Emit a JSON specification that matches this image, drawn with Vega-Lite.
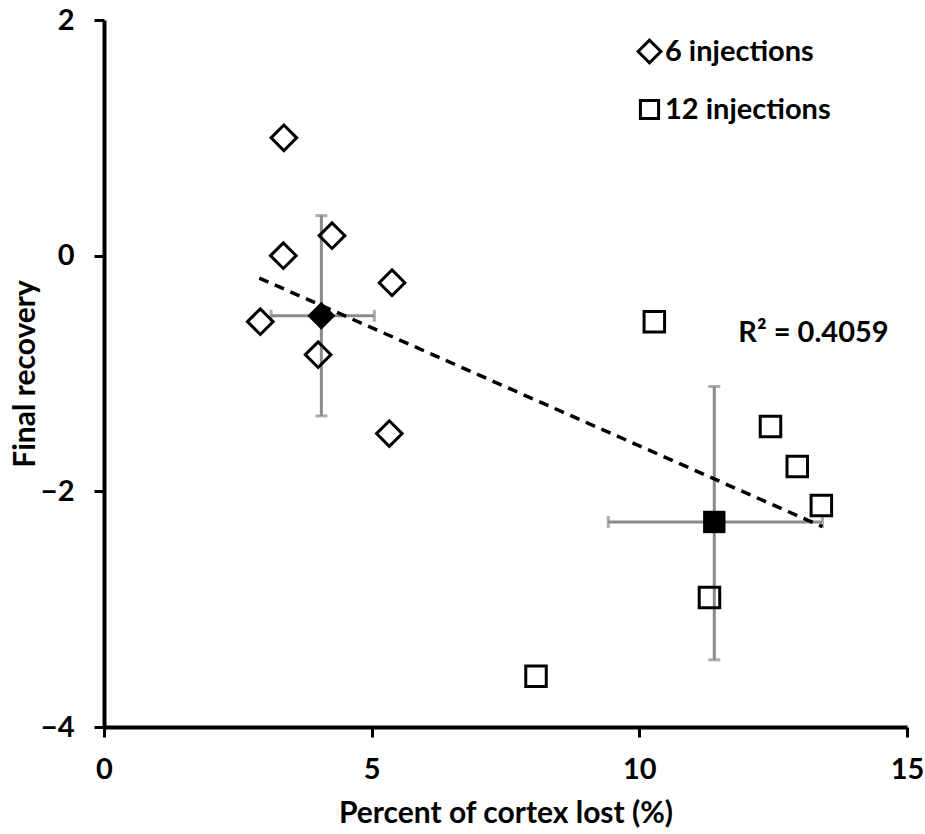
{
  "$schema": "https://vega.github.io/schema/vega-lite/v6.json",
  "width": 803,
  "height": 707,
  "autosize": {"type": "none"},
  "padding": {"left": 104, "top": 20, "right": 18, "bottom": 107},
  "background": "white",
  "config": {
    "view": {"stroke": null},
    "font": "Lato",
    "axis": {"grid": false, "domainColor": "black", "tickColor": "black", "labelColor": "black", "titleColor": "black", "labelFont": "Lato", "titleFont": "Lato", "labelFontWeight": "bold", "titleFontWeight": "bold", "labelFontSize": 29, "titleFontSize": 30, "domainWidth": 4, "tickWidth": 3, "tickSize": 10, "format": "d", "labelFlush": false},
    "axisX": {"labelPadding": 18, "titlePadding": 14},
    "axisY": {"labelPadding": 20, "titlePadding": 0}
  },
  "datasets": {
    "points": [
      {"group": "6 injections", "x": 3.36, "y": 1.0},
      {"group": "6 injections", "x": 3.35, "y": 0.0},
      {"group": "6 injections", "x": 4.26, "y": 0.17},
      {"group": "6 injections", "x": 5.38, "y": -0.23},
      {"group": "6 injections", "x": 2.92, "y": -0.56},
      {"group": "6 injections", "x": 4.0, "y": -0.84},
      {"group": "6 injections", "x": 5.33, "y": -1.51},
      {"group": "12 injections", "x": 10.28, "y": -0.56},
      {"group": "12 injections", "x": 12.45, "y": -1.45},
      {"group": "12 injections", "x": 12.95, "y": -1.79},
      {"group": "12 injections", "x": 13.4, "y": -2.12},
      {"group": "12 injections", "x": 11.31, "y": -2.9},
      {"group": "12 injections", "x": 8.07, "y": -3.57}
    ],
    "means": [
      {"group": "6 injections", "x": 4.06, "y": -0.51, "xlo": 3.12, "xhi": 5.05, "ylo": -1.36, "yhi": 0.34},
      {"group": "12 injections", "x": 11.4, "y": -2.26, "xlo": 9.42, "xhi": 13.42, "ylo": -3.43, "yhi": -1.11}
    ],
    "trend": [
      {"x": 2.9, "y": -0.19},
      {"x": 13.42, "y": -2.3}
    ],
    "label": [
      {"x": 11.85, "y": -0.66, "text": "R² = 0.4059"}
    ]
  },
  "layer": [
    {
      "data": {"name": "means"},
      "mark": {"type": "errorbar", "ticks": {"size": 12, "thickness": 3, "color": "#8a8a8a"}, "rule": {"strokeWidth": 3, "color": "#8a8a8a"}},
      "encoding": {
        "x": {"field": "x", "type": "quantitative", "title": "Percent of cortex lost (%)", "scale": {"domain": [0, 15], "nice": false, "zero": false}, "axis": {"values": [0, 5, 10, 15]}},
        "y": {"field": "ylo", "type": "quantitative", "title": "Final recovery", "scale": {"domain": [-4, 2], "nice": false, "zero": false}, "axis": {"values": [-4, -2, 0, 2]}},
        "y2": {"field": "yhi"}
      }
    },
    {
      "data": {"name": "means"},
      "mark": {"type": "errorbar", "ticks": {"size": 12, "thickness": 3, "color": "#8a8a8a"}, "rule": {"strokeWidth": 3, "color": "#8a8a8a"}},
      "encoding": {
        "y": {"field": "y", "type": "quantitative", "title": "Final recovery", "scale": {"domain": [-4, 2], "nice": false, "zero": false}, "axis": {"values": [-4, -2, 0, 2]}},
        "x": {"field": "xlo", "type": "quantitative", "title": "Percent of cortex lost (%)", "scale": {"domain": [0, 15], "nice": false, "zero": false}, "axis": {"values": [0, 5, 10, 15]}},
        "x2": {"field": "xhi"}
      }
    },
    {
      "data": {"name": "trend"},
      "mark": {"type": "line", "color": "black", "strokeWidth": 3.5, "strokeDash": [10, 7]},
      "encoding": {
        "x": {"field": "x", "type": "quantitative", "title": "Percent of cortex lost (%)", "scale": {"domain": [0, 15], "nice": false, "zero": false}, "axis": {"values": [0, 5, 10, 15]}},
        "y": {"field": "y", "type": "quantitative", "title": "Final recovery", "scale": {"domain": [-4, 2], "nice": false, "zero": false}, "axis": {"values": [-4, -2, 0, 2]}}
      }
    },
    {
      "data": {"name": "points"},
      "mark": {"type": "point", "filled": false, "stroke": "black", "strokeWidth": 3, "opacity": 1, "size": 420},
      "encoding": {
        "x": {"field": "x", "type": "quantitative", "title": "Percent of cortex lost (%)", "scale": {"domain": [0, 15], "nice": false, "zero": false}, "axis": {"values": [0, 5, 10, 15]}},
        "y": {"field": "y", "type": "quantitative", "title": "Final recovery", "scale": {"domain": [-4, 2], "nice": false, "zero": false}, "axis": {"values": [-4, -2, 0, 2]}},
        "shape": {"field": "group", "type": "nominal",
          "scale": {"domain": ["6 injections", "12 injections"], "range": ["M-1.25,0L0,-1.25L1.25,0L0,1.25Z", "square"]},
          "legend": {"title": null, "orient": "none", "legendX": 531, "legendY": 17, "padding": 0, "symbolSize": 330, "symbolStrokeWidth": 3, "symbolStrokeColor": "black", "symbolFillColor": "white", "labelFontSize": 29, "labelFontWeight": "bold", "labelFont": "Lato", "labelColor": "black", "labelLimit": 400, "rowPadding": 25, "labelOffset": 1}}
      }
    },
    {
      "data": {"name": "means"},
      "mark": {"type": "point", "filled": true, "color": "black", "opacity": 1, "size": 500},
      "encoding": {
        "x": {"field": "x", "type": "quantitative", "title": "Percent of cortex lost (%)", "scale": {"domain": [0, 15], "nice": false, "zero": false}, "axis": {"values": [0, 5, 10, 15]}},
        "y": {"field": "y", "type": "quantitative", "title": "Final recovery", "scale": {"domain": [-4, 2], "nice": false, "zero": false}, "axis": {"values": [-4, -2, 0, 2]}},
        "shape": {"field": "group", "type": "nominal", "legend": null}
      }
    },
    {
      "data": {"name": "label"},
      "mark": {"type": "text", "align": "left", "baseline": "middle", "fontSize": 29, "fontWeight": "bold", "font": "Lato", "color": "black"},
      "encoding": {
        "x": {"field": "x", "type": "quantitative", "title": "Percent of cortex lost (%)", "scale": {"domain": [0, 15], "nice": false, "zero": false}, "axis": {"values": [0, 5, 10, 15]}},
        "y": {"field": "y", "type": "quantitative", "title": "Final recovery", "scale": {"domain": [-4, 2], "nice": false, "zero": false}, "axis": {"values": [-4, -2, 0, 2]}},
        "text": {"field": "text"}
      }
    }
  ]
}
